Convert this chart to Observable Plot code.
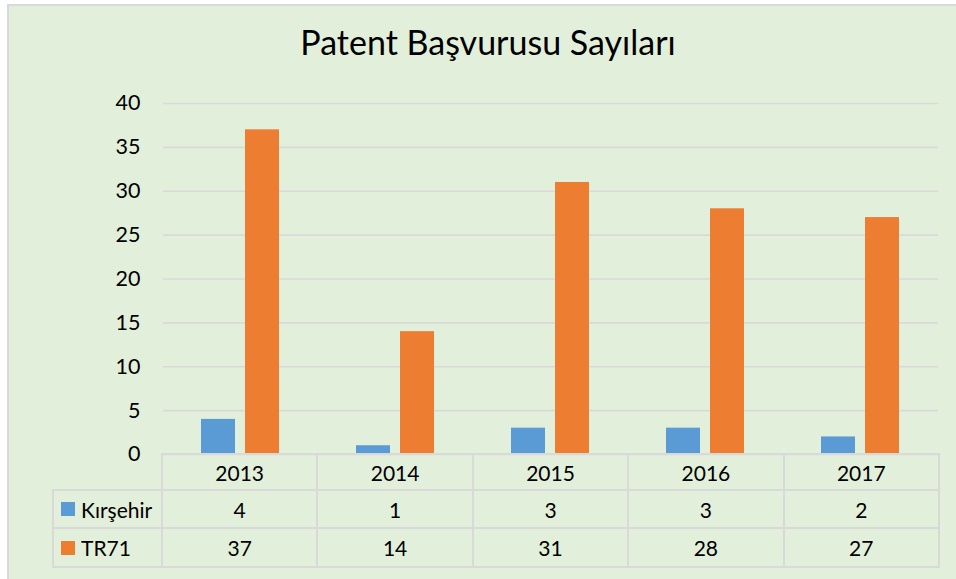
<!DOCTYPE html>
<html>
<head>
<meta charset="utf-8">
<script src="https://cdn.jsdelivr.net/npm/d3@7"></script>
<script src="https://cdn.jsdelivr.net/npm/@observablehq/plot@0.6"></script>
<style>
  html, body { margin: 0; padding: 0; background: #ffffff; }
  #wrap { position: relative; width: 956px; height: 579px; overflow: hidden; font-family: Lato, "Open Sans", sans-serif; color: #000; }
  #bg { position: absolute; left: 7px; top: 4px; width: 960px; height: 590px; background: #e2efda; border-left: 2px solid #d9d9d9; border-top: 2px solid #d9d9d9; box-sizing: border-box; }
  #title { position: absolute; left: 0; width: 976px; top: 22px; text-align: center; font-size: 34px; line-height: 40px; }
  #chart { position: absolute; left: 0; top: 0; }
  .cell { position: absolute; display: flex; align-items: center; justify-content: center; font-size: 21px; box-sizing: border-box; }
  .line { position: absolute; background: #d9d9d9; }
  .sw { display: inline-block; width: 14px; height: 14px; margin-right: 6px; }
</style>
</head>
<body>
<div id="wrap">
  <div id="bg"></div>
  <div id="chart"></div>
  <div id="title"></div>
  <div id="table"></div>
</div>
<script>
const titleText = "Patent Başvurusu Sayıları";
const years = ["2013", "2014", "2015", "2016", "2017"];
const series = ["Kırşehir", "TR71"];
const kirsehir = [4, 1, 3, 3, 2];
const tr71 = [37, 14, 31, 28, 27];
const colors = ["#5b9bd5", "#ed7d31"];
const yTicks = [0, 5, 10, 15, 20, 25, 30, 35, 40];

const seriesValues = [kirsehir, tr71];
const data = years.flatMap((yr, i) => series.map((s, j) => ({year: yr, series: s, value: seriesValues[j][i]})));

document.getElementById("title").textContent = titleText;

const W = 956, H = 579;
const mL = 162, mR = 17, mT = 103, mB = 125;

const chart = Plot.plot({
  width: W, height: H,
  marginLeft: mL, marginRight: mR, marginTop: mT, marginBottom: mB,
  style: {background: "transparent", fontFamily: 'Lato, "Open Sans", sans-serif', fontSize: "21px", color: "#000", overflow: "visible"},
  fx: {domain: years, padding: 0, axis: null, label: null},
  x: {domain: series, paddingInner: 0.222, paddingOuter: 0.838, axis: null},
  y: {domain: [0, 40], label: null},
  color: {domain: series, range: colors},
  marks: [
    Plot.gridY(yTicks, {stroke: "#d9d9d9", strokeOpacity: 1, strokeWidth: 1.6}),
    Plot.barY(data, {fx: "year", x: "series", y: "value", fill: "series"}),
    Plot.axisY(yTicks, {tickSize: 0, tickPadding: 23, fontSize: 21.5, fill: "#000", label: null})
  ]
});
document.getElementById("chart").appendChild(chart);

// Data table beneath the plot, aligned to the fx columns
const table = document.getElementById("table");
const colW = (W - mL - mR) / years.length;
const labelLeft = 53;
const rowTops = [454, 490, 528, 567];

function line(x, y, w, h) {
  const d = document.createElement("div");
  d.className = "line";
  Object.assign(d.style, {left: x + "px", top: y + "px", width: w + "px", height: h + "px"});
  table.appendChild(d);
}
function cell(x, y, w, h, content) {
  const d = document.createElement("div");
  d.className = "cell";
  Object.assign(d.style, {left: x + "px", top: y + "px", width: w + "px", height: h + "px"});
  if (typeof content === "string") d.textContent = content; else d.appendChild(content);
  table.appendChild(d);
}

// header row
years.forEach((yr, i) => cell(mL + i * colW, rowTops[0], colW, rowTops[1] - rowTops[0], yr));
// series rows
series.forEach((s, j) => {
  const y0 = rowTops[j + 1], h = rowTops[j + 2] - y0;
  const lab = document.createElement("span");
  lab.style.display = "flex"; lab.style.alignItems = "center";
  const sw = document.createElement("span");
  sw.className = "sw"; sw.style.background = colors[j];
  lab.appendChild(sw);
  lab.appendChild(document.createTextNode(s));
  const c = document.createElement("div");
  c.className = "cell";
  Object.assign(c.style, {left: (labelLeft + 8) + "px", top: y0 + "px", width: (mL - labelLeft - 8) + "px", height: h + "px", justifyContent: "flex-start"});
  c.appendChild(lab);
  table.appendChild(c);
  years.forEach((yr, i) => cell(mL + i * colW, y0, colW, h, String(seriesValues[j][i])));
});
// grid lines of the table
line(mL - 1, rowTops[0] - 1, W - mL - mR + 2, 2);
for (let r = 1; r < rowTops.length; r++) line(labelLeft - 1, rowTops[r] - 1, W - mR - labelLeft + 2, 2);
line(labelLeft - 1, rowTops[1] - 1, 2, rowTops[3] - rowTops[1] + 1);
for (let i = 0; i <= years.length; i++) line(mL + i * colW - 1, rowTops[0] - 1, 2, rowTops[3] - rowTops[0] + 1);
</script>
</body>
</html>
